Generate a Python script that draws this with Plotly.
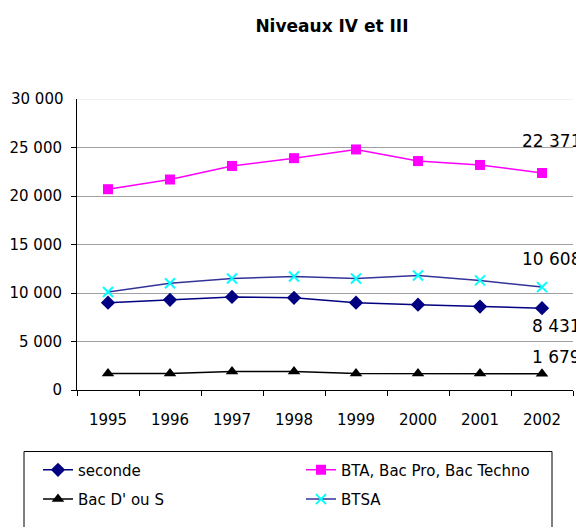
import plotly.graph_objects as go

years = [1995, 1996, 1997, 1998, 1999, 2000, 2001, 2002]
seconde = [9000, 9300, 9600, 9500, 9000, 8800, 8600, 8431]
bta = [20700, 21700, 23100, 23900, 24800, 23600, 23200, 22371]
bacds = [1700, 1700, 1900, 1900, 1700, 1700, 1700, 1679]
btsa = [10100, 11000, 11500, 11700, 11500, 11800, 11300, 10608]

FONT = "DejaVu Sans"

fig = go.Figure()
fig.add_trace(go.Scatter(x=years, y=seconde, name="seconde", mode="lines+markers",
                         legend="legend",
                         line=dict(color="#000080", width=1.5),
                         marker=dict(symbol="diamond", size=11, color="#000080")))
fig.add_trace(go.Scatter(x=years, y=bta, name="BTA, Bac Pro, Bac Techno", mode="lines+markers",
                         legend="legend2",
                         line=dict(color="#FF00FF", width=1.5),
                         marker=dict(symbol="square", size=10, color="#FF00FF")))
fig.add_trace(go.Scatter(x=years, y=bacds, name="Bac D' ou S", mode="lines+markers",
                         legend="legend3",
                         line=dict(color="#000000", width=1.5),
                         marker=dict(symbol="triangle-up", size=11, color="#000000")))
fig.add_trace(go.Scatter(x=years, y=btsa, name="BTSA", mode="lines+markers",
                         legend="legend4",
                         line=dict(color="#333399", width=1.5),
                         marker=dict(symbol="x-thin", size=10, color="#00FFFF",
                                     line=dict(color="#00FFFF", width=2))))

def fmt(v):
    return f"{v:,}".replace(",", " ")

for series, ys in [(bta, 32), (btsa, 28), (seconde, -18), (bacds, 17)]:
    fig.add_annotation(x=years[-1], y=series[-1], text=fmt(series[-1]), showarrow=False,
                       xanchor="right", yanchor="middle", xshift=41, yshift=ys,
                       font=dict(family=FONT, size=17, color="black"))

# The page shows the figure offset by 8px (body margin); plot area in page px: x 77..573, y 99..397
def px_x(p):
    return (p - 77) / 496.0

def px_y(p):
    return (397 - p) / 298.0

leg_common = dict(xanchor="left", yanchor="middle", bgcolor="rgba(0,0,0,0)",
                  borderwidth=0, font=dict(family=FONT, size=15, color="black"))

fig.update_layout(
    width=576, height=519,
    paper_bgcolor="white", plot_bgcolor="white",
    separators=", ",
    margin=dict(l=69, r=11, t=91, b=130),
    title=dict(text="<b>Niveaux IV et III</b>", x=0.514, xref="paper", xanchor="center",
               y=1 - 18 / 519, yanchor="middle",
               font=dict(family=FONT, size=17, color="black")),
    showlegend=True,
    legend=dict(x=px_x(38), y=px_y(479), **leg_common),
    legend2=dict(x=px_x(301), y=px_y(479), **leg_common),
    legend3=dict(x=px_x(38), y=px_y(509), **leg_common),
    legend4=dict(x=px_x(301), y=px_y(509), **leg_common),
    font=dict(family=FONT, size=15, color="black"),
    shapes=[
        dict(type="rect", xref="paper", yref="paper", x0=px_x(24), x1=px_x(552),
             y0=px_y(460), y1=px_y(545), line=dict(color="black", width=1),
             fillcolor="rgba(0,0,0,0)", layer="below"),
        dict(type="line", xref="paper", yref="y", x0=0, x1=1, y0=30000, y1=30000,
             line=dict(color="#e4e4e4", width=1), layer="below"),
    ],
)
bounds = [y - 0.5 for y in years] + [years[-1] + 0.5]
fig.update_xaxes(range=[years[0] - 0.5, years[-1] + 0.5], tickvals=years,
                 showline=True, linecolor="black", linewidth=1, automargin=False,
                 ticks="", showgrid=False, zeroline=False, ticklabelstandoff=16,
                 minor=dict(tickvals=bounds, ticks="outside", ticklen=5, tickcolor="black",
                            showgrid=False),
                 tickfont=dict(family=FONT, size=15, color="black"))
fig.update_yaxes(range=[0, 30000], tickvals=[0, 5000, 10000, 15000, 20000, 25000],
                 tickformat=",d", showline=True, automargin=False,
                 linecolor="black", linewidth=1, ticks="outside", ticklen=5,
                 tickcolor="black", showgrid=True, gridcolor="#a0a0a0", gridwidth=1,
                 zeroline=False, ticklabelstandoff=6,
                 tickfont=dict(family=FONT, size=15, color="black"))
fig.add_annotation(xref="paper", yref="y", x=0, y=30000, text=fmt(30000), showarrow=False,
                   xanchor="right", yanchor="middle", xshift=-11,
                   font=dict(family=FONT, size=15, color="black"))
fig.add_shape(type="line", xref="paper", yref="y", x0=0, x1=0, y0=30000, y1=30000,
              line=dict(color="black", width=1))

fig.write_html("out.html")
